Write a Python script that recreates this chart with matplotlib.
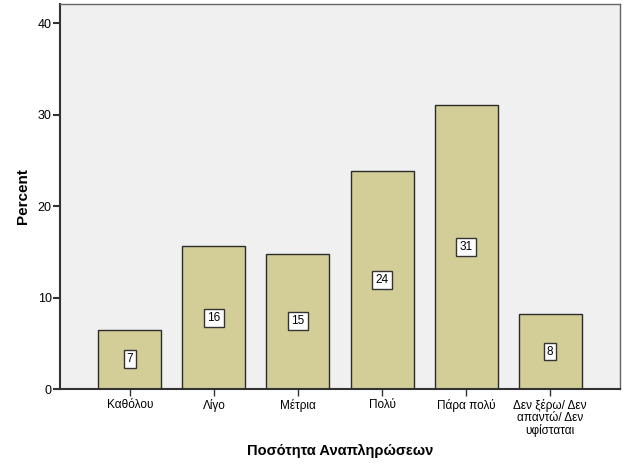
import matplotlib
matplotlib.use("Agg")
import matplotlib.pyplot as plt

categories = ["Καθόλου", "Λίγο", "Μέτρια", "Πολύ", "Πάρα πολύ", "Δεν ξέρω/ Δεν\nαπαντώ/ Δεν\nυφίσταται"]
values = [6.5, 15.6, 14.8, 23.8, 31.1, 8.2]
labels = ["7", "16", "15", "24", "31", "8"]
yticks = [0, 10, 20, 30, 40]

plt.rcParams['font.family'] = ['Liberation Sans', 'DejaVu Sans']

W, H = 629, 471
fig = plt.figure(figsize=(W / 100, H / 100), dpi=100)
ax = fig.add_axes([60 / W, (H - 389) / H, 560 / W, 385 / H])
ax.set_facecolor("#F0F0F0")

x = list(range(len(categories)))
ax.bar(x, values, width=0.75, color="#D3CE97", edgecolor="#2b2b2b", linewidth=1.0, zorder=2)
for xi, v, lab in zip(x, values, labels):
    ax.text(xi, v / 2, lab, ha="center", va="center", fontsize=8.5, zorder=3,
            bbox=dict(boxstyle="square,pad=0.25", facecolor="white", edgecolor="#333333", linewidth=1.0))

ax.set_xlim(-0.833, 5.833)
ax.set_ylim(0, 42.1)
ax.set_xticks(x)
ax.set_xticklabels(categories, fontsize=8.5, linespacing=1.0)
ax.set_yticks(yticks)
ax.tick_params(axis="y", labelsize=9, length=5, width=1.5, color="#333333", pad=1)
ax.tick_params(axis="x", length=5, width=1.0, color="#333333", pad=2)

for s in ["left", "bottom"]:
    ax.spines[s].set_color("#333333")
    ax.spines[s].set_linewidth(1.5)
for s in ["top", "right"]:
    ax.spines[s].set_color("#666666")
    ax.spines[s].set_linewidth(1.0)

ax.set_ylabel("Percent", fontsize=11, fontweight="bold", labelpad=5.5)
ax.set_xlabel("Ποσότητα Αναπληρώσεων", fontsize=10.5, fontweight="bold", labelpad=5)

fig.savefig("out.png", dpi=100, facecolor="white")
